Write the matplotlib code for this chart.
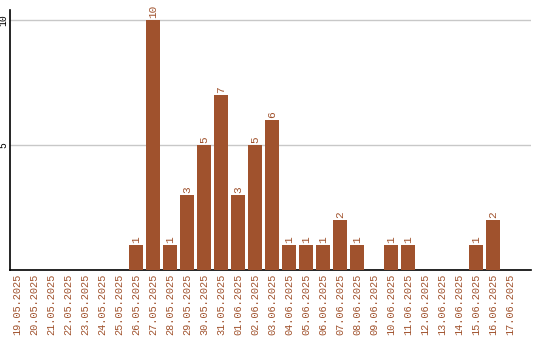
import matplotlib
matplotlib.use('Agg')
import matplotlib.pyplot as plt
import numpy as np

dates = ['19.05.2025', '20.05.2025', '21.05.2025', '22.05.2025', '23.05.2025',
         '24.05.2025', '25.05.2025', '26.05.2025', '27.05.2025', '28.05.2025',
         '29.05.2025', '30.05.2025', '31.05.2025', '01.06.2025', '02.06.2025',
         '03.06.2025', '04.06.2025', '05.06.2025', '06.06.2025', '07.06.2025',
         '08.06.2025', '09.06.2025', '10.06.2025', '11.06.2025', '12.06.2025',
         '13.06.2025', '14.06.2025', '15.06.2025', '16.06.2025', '17.06.2025']
counts = [0, 0, 0, 0, 0, 0, 0, 1, 10, 1,
          3, 5, 7, 3, 5, 6, 1, 1, 1, 2,
          1, 0, 1, 1, 0, 0, 0, 1, 2, 0]
yticks = [5, 10]

col = '#A0522D'
plt.rcParams['font.family'] = ['Liberation Mono', 'DejaVu Sans Mono']

fig = plt.figure(figsize=(5.4, 3.4), dpi=100)
ax = fig.add_axes([10/540, 70/340, 521/540, 260/340])

x = np.arange(len(dates))
ax.bar(x, counts, width=14/17, color=col, zorder=3)
for xi, c in zip(x, counts):
    if c > 0:
        ax.text(xi, c + 0.08, str(c), rotation=90, ha='center', va='bottom',
                color=col, fontsize=8)

ax.set_xlim(-7/17, 30.24)
ax.set_ylim(0, 10.4)
ax.set_yticks(yticks)
ax.set_yticklabels([str(v) for v in yticks], rotation=90, va='center', fontsize=7)
ax.yaxis.grid(True, color='#c8c8c8', linewidth=1, zorder=0)
ax.tick_params(axis='y', length=0, pad=1)
ax.set_xticks(x)
ax.set_xticklabels(dates, rotation=90, color=col, fontsize=7.4)
ax.tick_params(axis='x', length=0, pad=3)

for s in ['top', 'right']:
    ax.spines[s].set_visible(False)
ax.spines['left'].set_linewidth(1.2)
ax.spines['bottom'].set_linewidth(1.2)

fig.savefig('out.png', dpi=100)
